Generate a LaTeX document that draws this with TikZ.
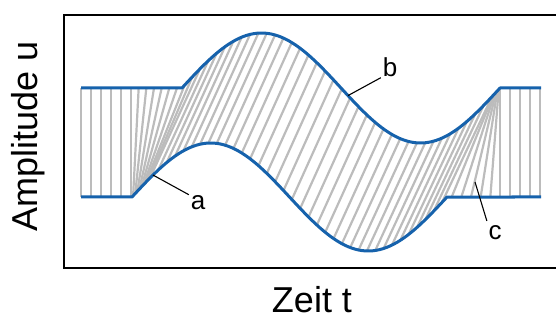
\documentclass[tikz,border=0pt]{standalone}
\usepackage{fontspec}
\setmainfont{Liberation Sans}
\usetikzlibrary{positioning}
\definecolor{cB}{RGB}{22,98,172}
\definecolor{cG}{RGB}{188,188,188}
\tikzset{
  curve/.style={line width=3pt, draw=cB, line join=round},
  link/.style={line width=2.2pt, draw=cG},
  leader/.style={line width=1.1pt, draw=black},
  lbl/.style={font=\fontsize{26}{28}\selectfont, inner sep=0pt},
  axlbl/.style={font=\fontsize{36}{38}\selectfont, inner sep=0pt},
}
% one warping link: top point at #1, bottom point at #2
\newcommand{\wlink}[2]{\draw[link] (#1,{T(#1)}) -- (#2,{B(#2)});}

\begin{document}
\begin{tikzpicture}[x=1pt, y=-1pt,
    declare function={
      T(\x)=88-55*sin((min(max(\x,182),500)-182)*1.132075);
      B(\x)=197-54*sin((min(max(\x,132),447)-132)*1.142857);
    }]
    \useasboundingbox (0,0) rectangle (556,320);

    % Frame
    \draw[line width=2.8pt] (64,15) rectangle (570,268);

    % Links, left part straight down
    \foreach \k in {0,...,5} {
      \pgfmathsetmacro\xt{81+10*\k}
      \wlink{\xt}{\xt}
    }
    % Links, left fan
    \foreach \k in {1,...,9} {
      \pgfmathsetmacro\xt{131+69*\k/9}
      \pgfmathsetmacro\xb{131+19*\k/9}
      \wlink{\xt}{\xb}
    }
    % Links, middle part
    \foreach \k in {1,...,35} {
      \pgfmathsetmacro\xt{200+292*\k/35}
      \pgfmathsetmacro\xb{\xt-50}
      \wlink{\xt}{\xb}
    }
    % Links, right fan
    \foreach \k in {1,...,6} {
      \pgfmathsetmacro\xt{492+8*\k/6}
      \pgfmathsetmacro\xb{442+58*\k/6}
      \wlink{\xt}{\xb}
    }
    % Links, right part straight down
    \foreach \k in {1,...,4} {
      \pgfmathsetmacro\xt{500+10*\k}
      \wlink{\xt}{\xt}
    }

    % Signal curves
    \draw[curve] (81,88) -- (182,88) -- plot[domain=182:500, samples=90] (\x,{T(\x)}) -- (541,88);
    \draw[curve] (81,197) -- (132,197) -- plot[domain=132:447, samples=90] (\x,{B(\x)}) -- (541,197);

    % Labels
    \coordinate (pa) at (153,{B(153)});
    \coordinate (pb) at (348,{T(348)});
    \coordinate (pc) at (475,182);
    \node[lbl] (a) at (198,203) {a};
    \node[lbl] (b) at (390,67) {b};
    \node[lbl] (c) at (495,233) {c};
    \draw[leader, shorten >=2pt] (pa) -- (a.north west);
    \draw[leader, shorten >=2pt] (pb) -- (b.south west);
    \draw[leader, shorten >=5pt] (pc) -- (c.north west);

    % Axis texts
    \node[axlbl, rotate=90] (ylab) at (28,136) {Amplitude u};
    \node[axlbl] (xlab) at (312,300) {Zeit t};
\end{tikzpicture}
\end{document}
